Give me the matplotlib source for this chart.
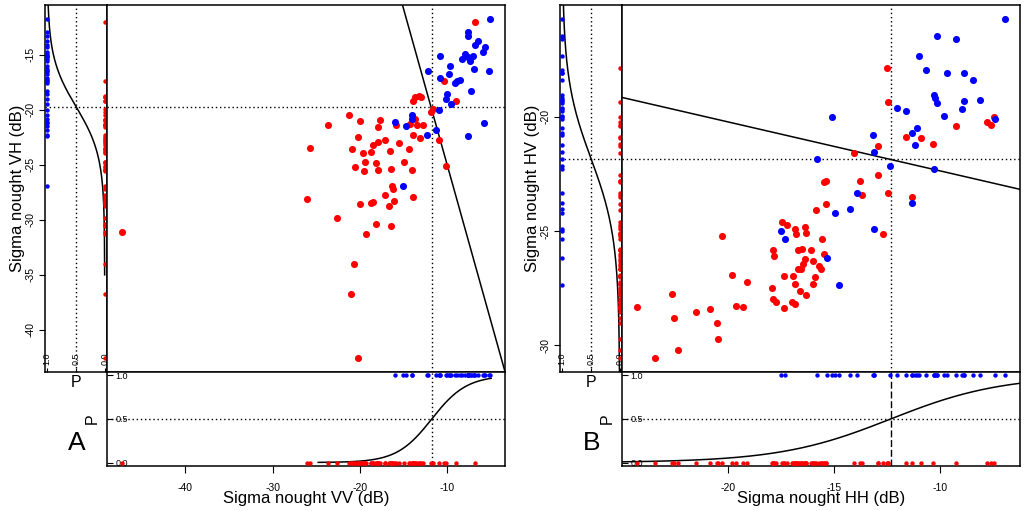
import numpy as np
import matplotlib
matplotlib.use("Agg")
import matplotlib.pyplot as plt

plt.rcParams['font.family'] = ['Liberation Sans', 'DejaVu Sans']

# ---- panel A : sigma nought VV (x) vs VH (y)
a_blue_vv = [-5.1, -7.6, -7.6, -6.5, -6.9, -5.7, -5.9, -8.0, -7.6, -7.1, -7.4, -8.3,
             -10.8, -9.7, -7.0, -5.2, -12.2, -9.8, -10.8, -8.6, -8.9, -9.1, -7.3, -10.1,
             -10.2, -9.6, -11.0, -5.8, -7.7, -11.3, -12.4, -16.0, -14.7, -14.1, -14.1, -15.1]
a_blue_vh = [-11.7, -12.9, -13.3, -13.7, -14.1, -14.3, -14.7, -14.9, -15.2, -15.1, -15.6, -15.4,
             -15.1, -16.0, -16.3, -16.5, -16.5, -16.7, -17.1, -17.3, -17.4, -17.6, -18.3, -18.6,
             -19.0, -19.5, -20.0, -21.2, -22.4, -21.8, -22.3, -21.1, -21.5, -20.5, -20.8, -26.9]
a_red_vv = [-25.7, -23.7, -21.3, -20.0, -17.7, -17.9, -15.9, -20.3, -20.9, -19.7,
            -18.8, -18.5, -18.0, -17.2, -16.6, -15.5, -14.4, -13.9, -13.2, -13.5,
            -12.8, -14.3, -13.7, -19.4, -20.6, -19.6, -18.2, -17.9, -16.5, -15.0,
            -14.1, -16.3, -16.2, -17.1, -18.5, -18.7, -20.0, -16.7, -16.1, -13.9,
            -26.1, -22.6, -18.2, -16.5, -19.3, -20.7, -21.1, -20.3, -11.0, -10.2,
            -14.0, -13.7, -13.3, -13.0, -11.9, -11.6, -10.4, -9.0, -6.9, -47.3]
a_red_vh = [-23.5, -21.4, -20.5, -21.0, -20.9, -21.6, -21.4, -22.5, -23.6, -23.9,
            -23.8, -23.2, -22.9, -22.7, -23.7, -23.0, -23.6, -22.3, -22.6, -21.4,
            -21.4, -21.3, -20.8, -24.7, -25.2, -25.6, -24.8, -25.5, -25.4, -24.7,
            -25.5, -26.9, -27.2, -27.7, -28.4, -28.5, -28.6, -28.7, -28.3, -27.9,
            -28.1, -29.8, -30.4, -30.6, -31.3, -34.0, -36.7, -42.6, -22.7, -25.1,
            -19.2, -18.8, -18.7, -18.8, -20.2, -19.9, -17.4, -19.2, -12.0, -31.1]
a_vv_fit = (-11.8, 0.50)      # 50% point, slope of logistic fit
a_vh_fit = (-19.7, 0.45)
a_vv_curve = (-24.8, -5.0)
a_vh_curve = (-35.0, -10.4)
a_line = ((-11.9, -19.7), -2.84)
a_xticks = [-40, -30, -20, -10]
a_yticks = [-15, -20, -25, -30, -35, -40]

# ---- panel B : sigma nought HH (x) vs HV (y)
b_blue_hh = [-6.93, -10.14, -9.27, -11.0, -10.66, -9.67, -8.87, -8.47, -10.31, -10.24, -10.17, -8.90,
             -8.14, -8.99, -9.81, -12.03, -11.62, -15.09, -7.41, -11.08, -11.32, -11.18, -13.19, -13.13,
             -15.80, -12.39, -10.28, -13.92, -11.33, -14.97, -14.27, -17.51, -17.33, -13.14, -15.33, -14.76]
b_blue_hv = [-15.71, -16.48, -16.59, -17.34, -17.96, -18.11, -18.09, -18.38, -19.04, -19.18, -19.40, -19.33,
             -19.29, -19.65, -19.96, -19.62, -19.74, -20.0, -20.12, -20.49, -20.71, -21.25, -20.82, -21.54,
             -21.85, -22.17, -22.27, -23.35, -23.79, -24.19, -24.05, -24.98, -25.37, -24.93, -26.18, -27.37]
b_red_hh = [-12.50, -12.48, -9.27, -7.81, -7.58, -7.47, -11.63, -10.91, -10.33, -12.92,
            -14.08, -12.92, -15.47, -15.39, -13.77, -13.69, -12.48, -11.32, -15.41, -15.88,
            -12.69, -17.48, -17.25, -16.87, -16.79, -16.38, -16.33, -15.58, -17.88, -17.84,
            -16.73, -16.51, -16.10, -15.49, -16.38, -16.46, -16.56, -16.70, -15.99, -15.74,
            -15.64, -17.36, -16.95, -16.84, -16.62, -16.35, -16.02, -15.91, -17.95, -17.88,
            -17.75, -17.36, -17.0, -16.85, -24.32, -23.44, -22.67, -22.56, -22.39, -21.52,
            -20.88, -20.55, -20.47, -20.30, -19.83, -19.64, -19.29, -19.12]
b_red_hv = [-17.89, -19.36, -20.41, -20.25, -20.38, -20.03, -20.90, -20.92, -21.19, -21.30,
            -21.59, -22.56, -22.84, -22.81, -22.81, -23.44, -23.32, -23.51, -23.83, -24.10,
            -25.14, -24.59, -24.72, -24.90, -25.14, -24.82, -25.08, -25.35, -25.84, -26.10,
            -25.85, -25.78, -25.85, -26.0, -26.21, -26.46, -26.65, -26.68, -26.33, -26.51,
            -26.64, -26.97, -26.97, -27.32, -27.61, -27.80, -27.32, -27.03, -27.48, -27.99,
            -28.09, -28.35, -28.09, -28.21, -28.33, -30.57, -27.77, -28.82, -30.22, -28.56,
            -28.43, -29.03, -29.71, -25.23, -26.93, -28.28, -28.33, -27.21]
b_hh_fit = (-12.34, 0.38)
b_hv_fit = (-21.83, 0.58)
b_hh_curve = None   # whole axis range
b_hv_curve = None
b_line = ((-12.34, -21.87), -0.214)
b_xticks = [-20, -15, -10]
b_yticks = [-20, -25, -30]

p_ticks = [0.0, 0.5, 1.0]

W, H = 1024, 511
fig = plt.figure(figsize=(W / 100, H / 100), dpi=100)


def box(l, t, r, b):
    return [l / W, 1 - b / H, (r - l) / W, (b - t) / H]


def logistic(v, fit):
    mid, k = fit
    return 1.0 / (1.0 + np.exp(-k * (v - mid)))


def padded(vals):
    lo, hi = min(vals), max(vals)
    d = 0.04 * (hi - lo)
    return lo - d, hi + d


def panel(dx, bx, by, rx, ry, xfit, yfit, xcurve, ycurve, line, xticks, yticks,
          xlabel, ylabel, tag, vdash):
    ax_l = fig.add_axes(box(45 + dx, 5, 107 + dx, 372))
    ax_m = fig.add_axes(box(107 + dx, 5, 505 + dx, 372))
    ax_b = fig.add_axes(box(107 + dx, 372, 505 + dx, 466))

    xlim = padded(bx + rx)
    ylim = padded(by + ry)
    plim = (-0.04, 1.04)
    dot = (0, (1, 2))

    # main scatter
    ax_m.scatter(rx, ry, s=26, color='#ff0000', lw=0, zorder=3)
    ax_m.scatter(bx, by, s=26, color='#0000ff', lw=0, zorder=3)
    ax_m.axline(line[0], slope=line[1], color='black', lw=1.1)
    ax_m.axhline(yfit[0], color='black', lw=1, ls=dot)
    ax_m.axvline(xfit[0], color='black', lw=1, ls=dot)
    ax_m.set_xlim(xlim)
    ax_m.set_ylim(ylim)
    ax_m.set_xticks([])
    ax_m.set_yticks([])

    # left marginal: probability vs y
    ax_l.scatter(np.zeros(len(ry)), ry, s=10, color='#ff0000', lw=0, clip_on=False, zorder=3)
    ax_l.scatter(np.ones(len(by)), by, s=10, color='#0000ff', lw=0, clip_on=False, zorder=3)
    yc = np.linspace(*(ycurve if ycurve else ylim), 300)
    ax_l.plot(logistic(yc, yfit), yc, color='black', lw=1.1)
    ax_l.axvline(0.5, color='black', lw=1, ls=dot)
    ax_l.axhline(yfit[0], color='black', lw=1, ls=dot)
    ax_l.set_xlim(plim[::-1])
    ax_l.set_ylim(ylim)
    ax_l.set_yticks(yticks)
    ax_l.set_yticklabels([str(t) for t in yticks])
    ax_l.tick_params(axis='y', direction='out', length=4.5, labelsize=7.5,
                     labelrotation=90, pad=2)
    for t in ax_l.get_yticklabels():
        t.set_verticalalignment('center')
    ax_l.set_xticks(p_ticks)
    ax_l.set_xticklabels(['%.1f' % p for p in p_ticks])
    ax_l.tick_params(axis='x', direction='in', length=3, labelsize=6.5,
                     labelrotation=90, pad=-5)
    for t in ax_l.get_xticklabels():
        t.set_verticalalignment('bottom')
    ax_l.set_ylabel(ylabel, fontsize=12, labelpad=1)
    ax_l.set_xlabel('P', fontsize=11.5, labelpad=2.5)

    # bottom marginal: probability vs x
    ax_b.scatter(rx, np.zeros(len(rx)), s=10, color='#ff0000', lw=0, clip_on=False, zorder=3)
    ax_b.scatter(bx, np.ones(len(bx)), s=10, color='#0000ff', lw=0, clip_on=False, zorder=3)
    xc = np.linspace(*(xcurve if xcurve else xlim), 300)
    ax_b.plot(xc, logistic(xc, xfit), color='black', lw=1.1)
    ax_b.axhline(0.5, color='black', lw=1, ls=dot)
    ax_b.axvline(xfit[0], color='black', lw=1, ls=vdash)
    ax_b.set_xlim(xlim)
    ax_b.set_ylim(plim)
    ax_b.set_xticks(xticks)
    ax_b.set_xticklabels([str(t) for t in xticks])
    ax_b.tick_params(axis='x', direction='out', length=5, labelsize=7.5, pad=7)
    ax_b.set_yticks(p_ticks)
    ax_b.set_yticklabels(['%.1f' % p for p in p_ticks])
    ax_b.tick_params(axis='y', direction='in', length=4, labelsize=6.5, pad=-6)
    for t in ax_b.get_yticklabels():
        t.set_horizontalalignment('left')
    ax_b.set_xlabel(xlabel, fontsize=12, labelpad=-1)
    ax_b.set_ylabel('P', fontsize=11.5, labelpad=5)

    for ax in (ax_l, ax_m, ax_b):
        for sp in ax.spines.values():
            sp.set_linewidth(1.1)

    fig.text((77 + dx) / W, 1 - 443 / H, tag, fontsize=19, ha='center', va='center')


panel(0, a_blue_vv, a_blue_vh, a_red_vv, a_red_vh, a_vv_fit, a_vh_fit, a_vv_curve, a_vh_curve,
      a_line, a_xticks, a_yticks, 'Sigma nought VV (dB)', 'Sigma nought VH (dB)', 'A',
      (0, (1, 2)))
panel(515, b_blue_hh, b_blue_hv, b_red_hh, b_red_hv, b_hh_fit, b_hv_fit, b_hh_curve, b_hv_curve,
      b_line, b_xticks, b_yticks, 'Sigma nought HH (dB)', 'Sigma nought HV (dB)', 'B',
      (0, (5, 2)))

fig.savefig('out.png', dpi=100)
